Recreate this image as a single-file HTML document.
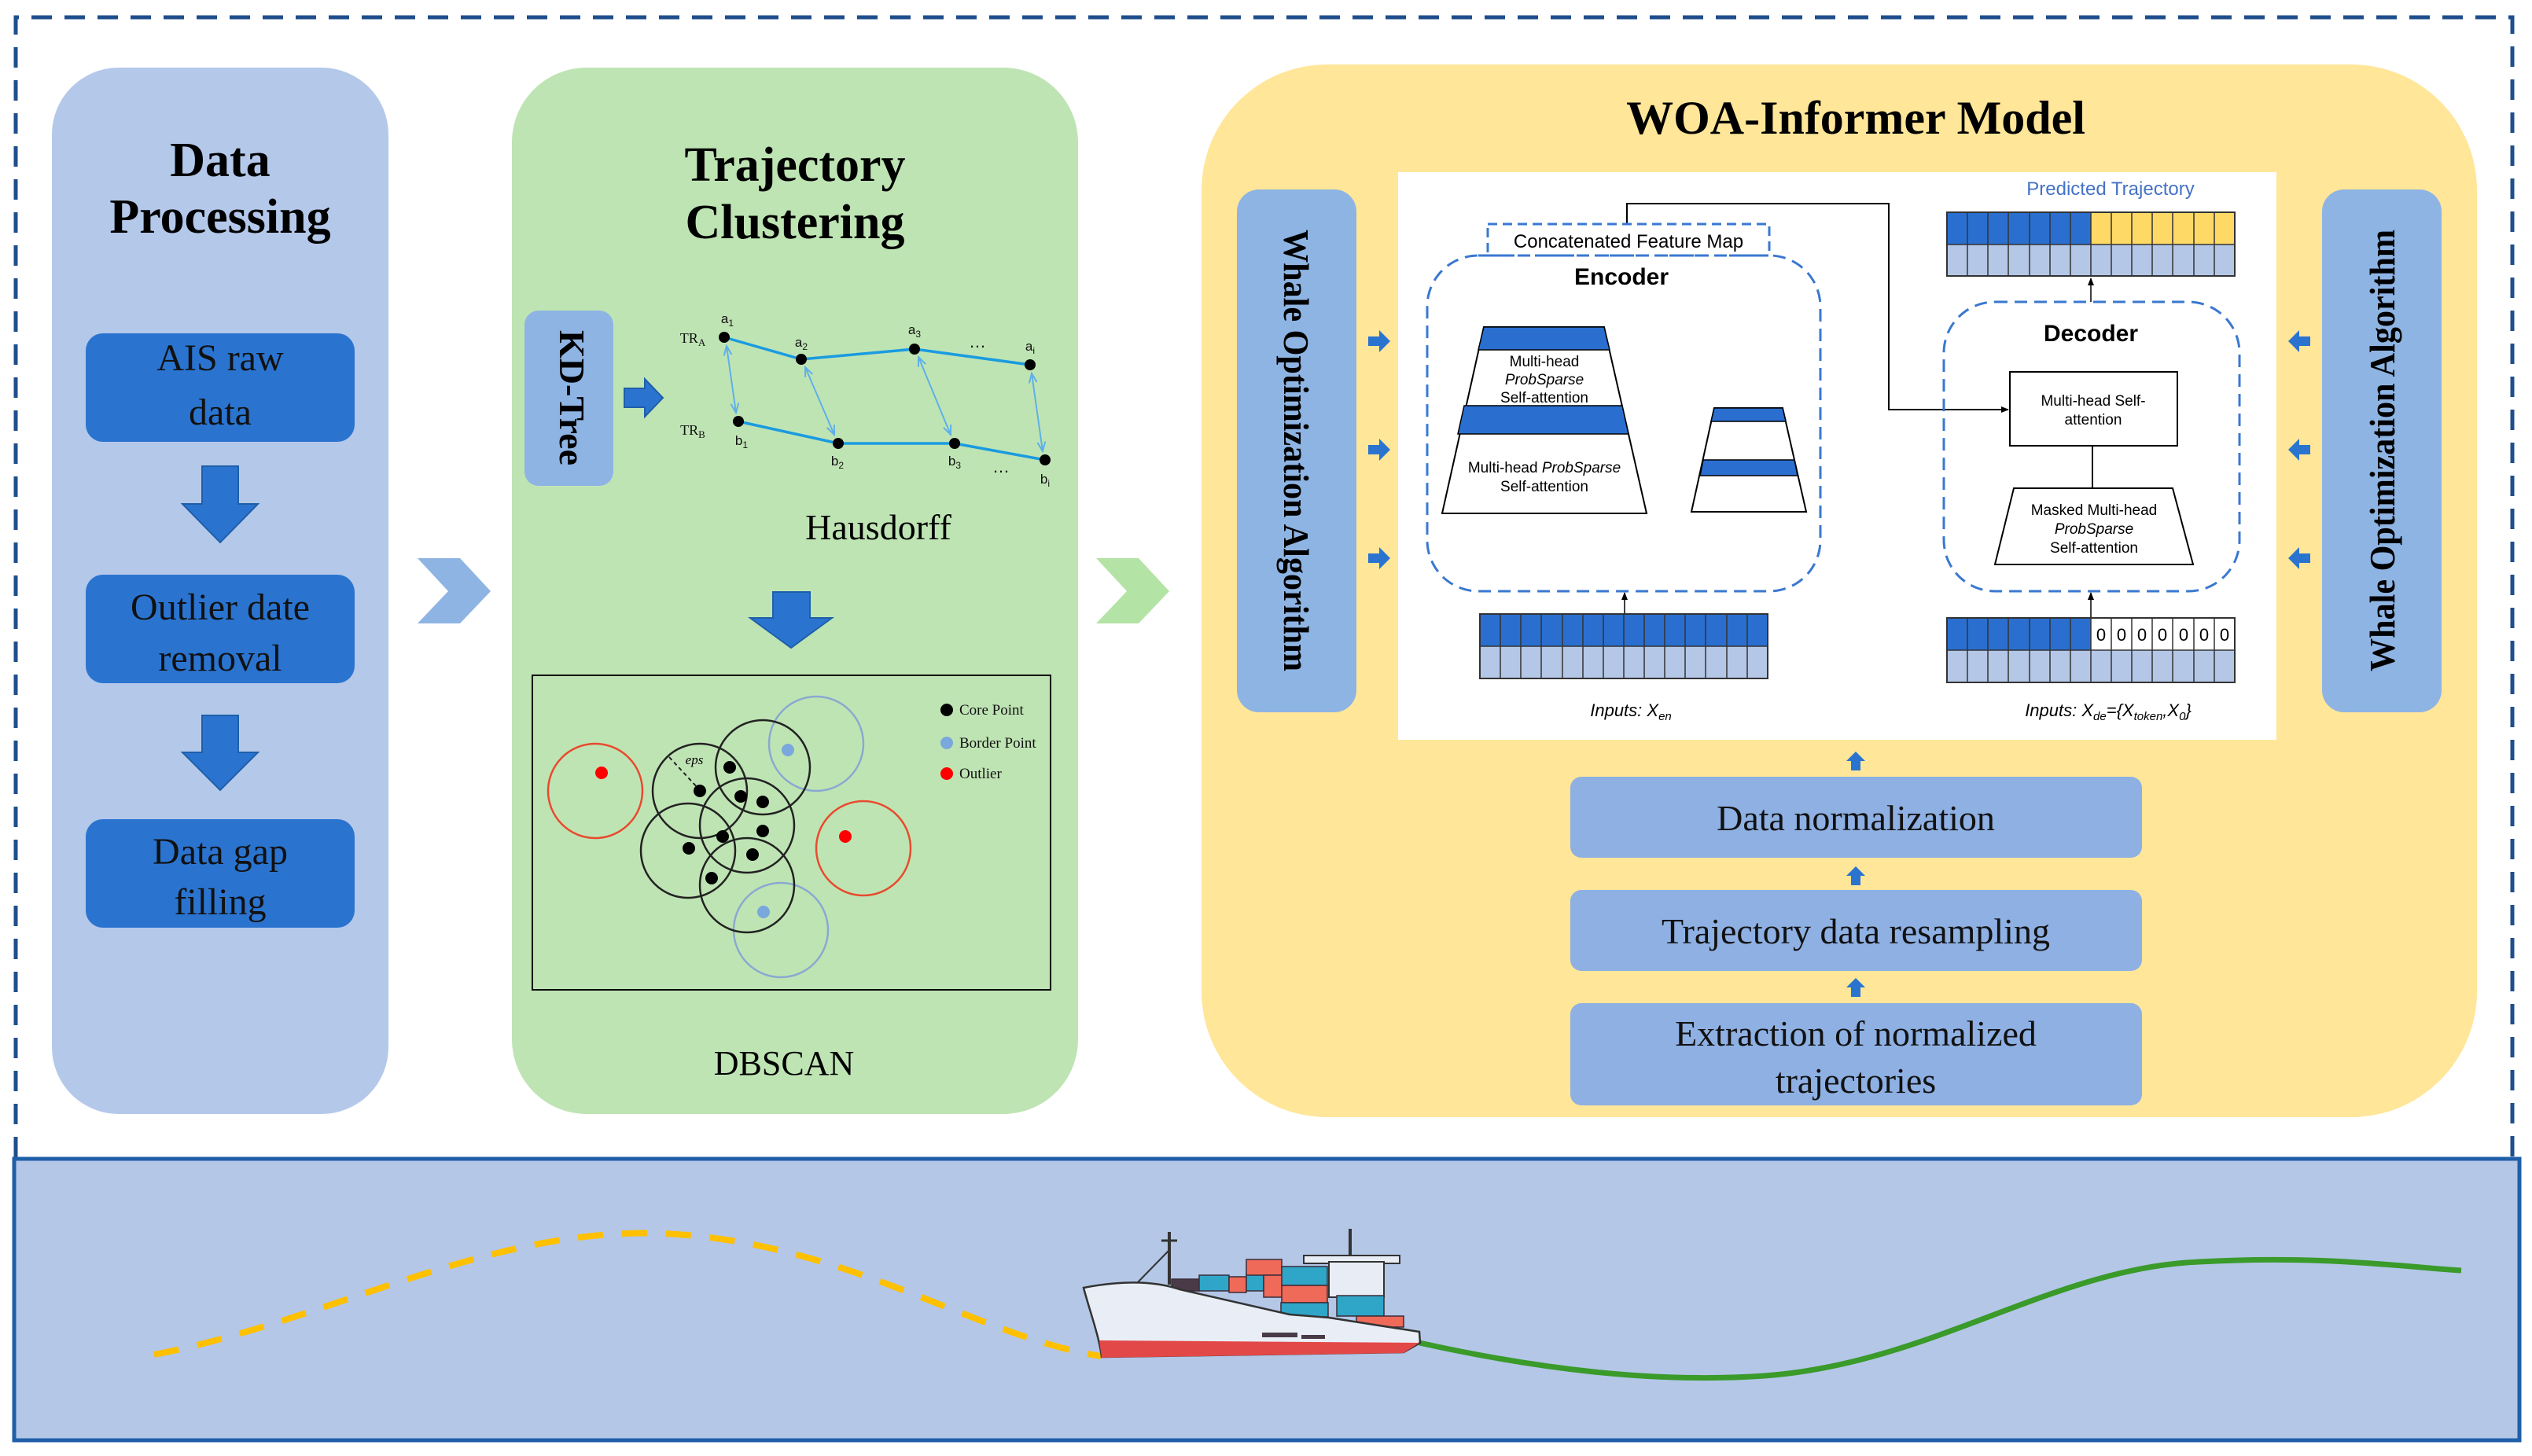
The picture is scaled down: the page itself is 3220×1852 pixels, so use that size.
<!DOCTYPE html>
<html><head><meta charset="utf-8"><style>
html,body{margin:0;padding:0;background:#fff;}
svg{display:block;}
.ser{font-family:"Liberation Serif",serif;}
.san{font-family:"Liberation Sans",sans-serif;}
</style></head><body>
<svg width="3220" height="1852" viewBox="0 0 3220 1852" xmlns="http://www.w3.org/2000/svg">
<defs>
<marker id="ah" markerWidth="10" markerHeight="10" refX="9" refY="5" orient="auto" markerUnits="userSpaceOnUse"><path d="M0,1 L10,5 L0,9 Z" fill="#000"/></marker>
<marker id="bh" markerWidth="14" markerHeight="14" refX="12" refY="7" orient="auto-start-reverse" markerUnits="userSpaceOnUse"><path d="M0,2 L12,7 L0,12" fill="none" stroke="#5fb0e8" stroke-width="2"/></marker>
</defs>
<rect width="3220" height="1852" fill="#fff"/>
<!-- outer dashed border -->
<path d="M20,1472 L20,22 L3195,22 L3195,1472" fill="none" stroke="#1f4e8c" stroke-width="5" stroke-dasharray="26 16"/>
<!-- bottom panel -->
<rect x="18" y="1474" width="3186" height="358" fill="#b4c7e7" stroke="#1f5fa8" stroke-width="5"/>

<!-- Data Processing panel -->
<rect x="66" y="86" width="428" height="1331" rx="85" fill="#b4c8ea"/>
<text x="280" y="224" text-anchor="middle" class="ser" font-size="62" font-weight="bold">Data</text>
<text x="280" y="296" text-anchor="middle" class="ser" font-size="62" font-weight="bold">Processing</text>
<g fill="#2a74d0">
<rect x="109" y="424" width="342" height="138" rx="22"/>
<rect x="109" y="731" width="342" height="138" rx="22"/>
<rect x="109" y="1042" width="342" height="138" rx="22"/>
</g>
<g class="ser" font-size="48" text-anchor="middle" fill="#111">
<text x="280" y="471">AIS raw</text><text x="280" y="540">data</text>
<text x="280" y="788">Outlier date</text><text x="280" y="853">removal</text>
<text x="280" y="1099">Data gap</text><text x="280" y="1163">filling</text>
</g>
<g fill="#2a74d0" stroke="#1f5fa8" stroke-width="2">
<path d="M257,593 H303 V641 H328 L280,690 L232,641 H257 Z"/>
<path d="M257,910 H303 V957 H328 L280,1005 L232,957 H257 Z"/>
</g>
<!-- chevrons -->
<path d="M531,710 L585,710 L624,752 L585,793 L531,793 L570,752 Z" fill="#8eb4e3"/>
<path d="M1394,710 L1448,710 L1487,752 L1448,793 L1394,793 L1433,752 Z" fill="#b4e3a6"/>

<!-- Trajectory Clustering panel -->
<rect x="651" y="86" width="720" height="1331" rx="95" fill="#bfe4b4"/>
<text x="1011" y="230" text-anchor="middle" class="ser" font-size="62" font-weight="bold">Trajectory</text>
<text x="1011" y="303" text-anchor="middle" class="ser" font-size="62" font-weight="bold">Clustering</text>
<rect x="667" y="395" width="113" height="223" rx="18" fill="#8eb4e3"/>
<text transform="translate(712,506) rotate(90)" text-anchor="middle" class="ser" font-size="46" font-weight="bold">KD-Tree</text>
<path d="M794,494 H820 V482 L843,506 L820,530 V518 H794 Z" fill="#2a74d0" stroke="#1f5fa8" stroke-width="2"/>
<!-- Hausdorff -->
<g stroke="#1a9be0" stroke-width="3.5" fill="none">
<polyline points="921,429 1019,457 1163,444 1310,464"/>
<polyline points="939,536 1066,564 1214,564 1329,585"/>
</g>
<g stroke="#5fb0e8" stroke-width="2" fill="none" marker-start="url(#bh)" marker-end="url(#bh)">
<line x1="924" y1="440" x2="936" y2="525"/>
<line x1="1024" y1="467" x2="1061" y2="553"/>
<line x1="1168" y1="454" x2="1209" y2="553"/>
<line x1="1312" y1="475" x2="1326" y2="574"/>
</g>
<g fill="#000">
<circle cx="921" cy="429" r="7"/><circle cx="1019" cy="457" r="7"/><circle cx="1163" cy="444" r="7"/><circle cx="1310" cy="464" r="7"/>
<circle cx="939" cy="536" r="7"/><circle cx="1066" cy="564" r="7"/><circle cx="1214" cy="564" r="7"/><circle cx="1329" cy="585" r="7"/>
</g>
<g class="san" font-size="17" fill="#111" text-anchor="middle">
<text x="925" y="411">a<tspan font-size="12" dy="4">1</tspan></text>
<text x="1019" y="441">a<tspan font-size="12" dy="4">2</tspan></text>
<text x="1163" y="425">a<tspan font-size="12" dy="4">3</tspan></text>
<text x="1310" y="446">a<tspan font-size="12" dy="4">i</tspan></text>
<text x="943" y="566">b<tspan font-size="12" dy="4">1</tspan></text>
<text x="1065" y="592">b<tspan font-size="12" dy="4">2</tspan></text>
<text x="1214" y="592">b<tspan font-size="12" dy="4">3</tspan></text>
<text x="1329" y="615">b<tspan font-size="12" dy="4">i</tspan></text>
<text x="1243" y="442" font-size="22">…</text>
<text x="1273" y="601" font-size="22">…</text>
</g>
<g class="ser" font-size="18" fill="#111" text-anchor="middle">
<text x="881" y="436">TR<tspan font-size="13" dy="4">A</tspan></text>
<text x="881" y="553">TR<tspan font-size="13" dy="4">B</tspan></text>
</g>
<text x="1117" y="686" text-anchor="middle" class="ser" font-size="46">Hausdorff</text>
<path d="M983,753 H1030 V786 H1058 L1006,824 L954,786 H983 Z" fill="#2a74d0" stroke="#1f5fa8" stroke-width="2"/>
<!-- DBSCAN -->
<rect x="677" y="859" width="659" height="400" fill="none" stroke="#000" stroke-width="2"/>
<g fill="none" stroke-width="2.5">
<circle cx="757" cy="1006" r="60" stroke="#e84a2e"/>
<circle cx="1098" cy="1079" r="60" stroke="#e84a2e"/>
<circle cx="1038" cy="946" r="60" stroke="#8aa9d0"/>
<circle cx="993" cy="1183" r="60" stroke="#8aa9d0"/>
<g stroke="#222">
<circle cx="890" cy="1006" r="60"/><circle cx="970" cy="976" r="60"/><circle cx="950" cy="1050" r="60"/><circle cx="875" cy="1082" r="60"/><circle cx="950" cy="1126" r="60"/>
</g>
</g>
<line x1="851" y1="963" x2="889" y2="1004" stroke="#222" stroke-width="2" stroke-dasharray="5 4"/>
<text x="883" y="972" class="ser" font-size="17" font-style="italic" text-anchor="middle">eps</text>
<g fill="#000">
<circle cx="890" cy="1006" r="8"/><circle cx="928" cy="976" r="8"/><circle cx="942" cy="1013" r="8"/><circle cx="970" cy="1020" r="8"/><circle cx="970" cy="1057" r="8"/><circle cx="919" cy="1064" r="8"/><circle cx="876" cy="1079" r="8"/><circle cx="957" cy="1087" r="8"/><circle cx="905" cy="1117" r="8"/>
</g>
<circle cx="765" cy="983" r="8" fill="#f00"/><circle cx="1075" cy="1064" r="8" fill="#f00"/>
<circle cx="1002" cy="954" r="8" fill="#7aa7dc"/><circle cx="971" cy="1160" r="8" fill="#7aa7dc"/>
<circle cx="1204" cy="903" r="8" fill="#000"/><circle cx="1204" cy="945" r="8" fill="#7aa7dc"/><circle cx="1204" cy="984" r="8" fill="#f00"/>
<g class="ser" font-size="19" fill="#111">
<text x="1220" y="909">Core Point</text><text x="1220" y="951">Border Point</text><text x="1220" y="990">Outlier</text>
</g>
<text x="997" y="1367" text-anchor="middle" class="ser" font-size="44">DBSCAN</text>

<!-- WOA-Informer panel -->
<rect x="1528" y="82" width="1622" height="1339" rx="160" fill="#ffe699"/>
<text x="2360" y="170" text-anchor="middle" class="ser" font-size="60" font-weight="bold">WOA-Informer Model</text>
<rect x="1573" y="241" width="152" height="665" rx="28" fill="#8eb4e3"/>
<rect x="2953" y="241" width="152" height="665" rx="28" fill="#8eb4e3"/>
<text transform="translate(1633,573) rotate(90)" text-anchor="middle" class="ser" font-size="46" font-weight="bold" textLength="562" lengthAdjust="spacingAndGlyphs">Whale Optimization Algorithm</text>
<text transform="translate(3045,573) rotate(-90)" text-anchor="middle" class="ser" font-size="46" font-weight="bold" textLength="562" lengthAdjust="spacingAndGlyphs">Whale Optimization Algorithm</text>
<g fill="#2a74d0">
<path d="M1740,428 H1754 V420 L1768,434 L1754,448 V440 H1740 Z"/>
<path d="M1740,566 H1754 V558 L1768,572 L1754,586 V578 H1740 Z"/>
<path d="M1740,704 H1754 V696 L1768,710 L1754,724 V716 H1740 Z"/>
<path d="M2938,428 H2924 V420 L2910,434 L2924,448 V440 H2938 Z"/>
<path d="M2938,566 H2924 V558 L2910,572 L2924,586 V578 H2938 Z"/>
<path d="M2938,704 H2924 V696 L2910,710 L2924,724 V716 H2938 Z"/>
</g>
<!-- white informer panel -->
<rect x="1778" y="219" width="1117" height="722" fill="#fff"/>
<!-- connector -->
<polyline points="2069,285 2069,259 2402,259 2402,521 2554,521" fill="none" stroke="#000" stroke-width="2" marker-end="url(#ah)"/>
<rect x="1892" y="285" width="358" height="40" fill="#fff" stroke="#3a78d0" stroke-width="3" stroke-dasharray="12 7"/>
<text x="2071" y="315" text-anchor="middle" class="san" font-size="24">Concatenated Feature Map</text>
<rect x="1815" y="325" width="500" height="427" rx="65" fill="none" stroke="#3a78d0" stroke-width="3" stroke-dasharray="16 9"/>
<text x="2062" y="362" text-anchor="middle" class="san" font-size="30" font-weight="bold">Encoder</text>
<!-- big trapezoid -->
<path d="M1887,416 L2040,416 L2094,653 L1834,653 Z" fill="#fff" stroke="#000" stroke-width="2"/>
<path d="M1887,416 L2040,416 L2047,445 L1880,445 Z" fill="#2a6fd0" stroke="#000" stroke-width="1.5"/>
<path d="M1862,516 L2063,516 L2071,552 L1854,552 Z" fill="#2a6fd0" stroke="#000" stroke-width="1.5"/>
<g class="san" font-size="19" text-anchor="middle">
<text x="1964" y="466">Multi-head</text>
<text x="1964" y="489" font-style="italic">ProbSparse</text>
<text x="1964" y="512">Self-attention</text>
<text x="1964" y="601">Multi-head <tspan font-style="italic">ProbSparse</tspan></text>
<text x="1964" y="625">Self-attention</text>
</g>
<path d="M2180,519 L2267,519 L2297,651 L2151,651 Z" fill="#fff" stroke="#000" stroke-width="2"/>
<path d="M2180,519 L2267,519 L2271,536 L2176,536 Z" fill="#2a6fd0" stroke="#000" stroke-width="1.5"/>
<path d="M2166,585 L2282,585 L2286,605 L2162,605 Z" fill="#2a6fd0" stroke="#000" stroke-width="1.5"/>
<line x1="2066" y1="781" x2="2066" y2="754" stroke="#000" stroke-width="1.5" marker-end="url(#ah)"/>
<!-- encoder input grid -->
<rect x="1882" y="781" width="366" height="41" fill="#2a6fd0"/>
<rect x="1882" y="822" width="366" height="41" fill="#b4c7e7"/>
<path d="M1908,781V863M1934,781V863M1960,781V863M1987,781V863M2013,781V863M2039,781V863M2065,781V863M2091,781V863M2117,781V863M2143,781V863M2169,781V863M2196,781V863M2222,781V863M1882,822H2248" stroke="#333" stroke-width="1.5"/>
<rect x="1882" y="781" width="366" height="82" fill="none" stroke="#333" stroke-width="2"/>
<text x="2074" y="911" text-anchor="middle" class="san" font-size="22" font-style="italic">Inputs: X<tspan font-size="15" dy="5">en</tspan></text>
<!-- decoder -->
<text x="2684" y="248" text-anchor="middle" class="san" font-size="24" fill="#4472c4">Predicted Trajectory</text>
<rect x="2476" y="270" width="183" height="41" fill="#2a6fd0"/>
<rect x="2659" y="270" width="183" height="41" fill="#ffd966"/>
<rect x="2476" y="311" width="366" height="40" fill="#b4c7e7"/>
<path d="M2502,270V351M2528,270V351M2554,270V351M2581,270V351M2607,270V351M2633,270V351M2659,270V351M2685,270V351M2711,270V351M2737,270V351M2763,270V351M2790,270V351M2816,270V351M2476,311H2842" stroke="#333" stroke-width="1.5"/>
<rect x="2476" y="270" width="366" height="81" fill="none" stroke="#333" stroke-width="2"/>
<line x1="2659" y1="384" x2="2659" y2="354" stroke="#000" stroke-width="1.5" marker-end="url(#ah)"/>
<rect x="2472" y="384" width="376" height="368" rx="65" fill="none" stroke="#3a78d0" stroke-width="3" stroke-dasharray="16 9"/>
<text x="2659" y="434" text-anchor="middle" class="san" font-size="30" font-weight="bold">Decoder</text>
<rect x="2556" y="473" width="213" height="94" fill="#fff" stroke="#000" stroke-width="2"/>
<text x="2662" y="516" text-anchor="middle" class="san" font-size="19">Multi-head Self-</text>
<text x="2662" y="540" text-anchor="middle" class="san" font-size="19">attention</text>
<line x1="2661" y1="567" x2="2661" y2="621" stroke="#000" stroke-width="2"/>
<path d="M2561,621 L2763,621 L2789,718 L2537,718 Z" fill="#fff" stroke="#000" stroke-width="2"/>
<g class="san" font-size="19" text-anchor="middle">
<text x="2663" y="655">Masked Multi-head</text>
<text x="2663" y="679" font-style="italic">ProbSparse</text>
<text x="2663" y="703">Self-attention</text>
</g>
<line x1="2659" y1="786" x2="2659" y2="754" stroke="#000" stroke-width="1.5" marker-end="url(#ah)"/>
<rect x="2476" y="786" width="183" height="41" fill="#2a6fd0"/>
<rect x="2659" y="786" width="183" height="41" fill="#fff"/>
<rect x="2476" y="827" width="366" height="41" fill="#b4c7e7"/>
<path d="M2502,786V868M2528,786V868M2554,786V868M2581,786V868M2607,786V868M2633,786V868M2659,786V868M2685,786V868M2711,786V868M2737,786V868M2763,786V868M2790,786V868M2816,786V868M2476,827H2842" stroke="#333" stroke-width="1.5"/>
<rect x="2476" y="786" width="366" height="82" fill="none" stroke="#333" stroke-width="2"/>
<g class="san" font-size="22" text-anchor="middle">
<text x="2672" y="815">0</text><text x="2698" y="815">0</text><text x="2724" y="815">0</text><text x="2750" y="815">0</text><text x="2777" y="815">0</text><text x="2803" y="815">0</text><text x="2829" y="815">0</text>
</g>
<text x="2681" y="911" text-anchor="middle" class="san" font-size="22" font-style="italic">Inputs: X<tspan font-size="15" dy="5">de</tspan><tspan dy="-5">={X</tspan><tspan font-size="15" dy="5">token</tspan><tspan dy="-5">,X</tspan><tspan font-size="15" dy="5">0</tspan><tspan dy="-5">}</tspan></text>
<!-- bottom boxes -->
<g fill="#8eb0e3">
<rect x="1997" y="988" width="727" height="103" rx="14"/>
<rect x="1997" y="1132" width="727" height="103" rx="14"/>
<rect x="1997" y="1276" width="727" height="130" rx="14"/>
</g>
<g class="ser" font-size="46" text-anchor="middle" fill="#111">
<text x="2360" y="1056">Data normalization</text>
<text x="2360" y="1200">Trajectory data resampling</text>
<text x="2360" y="1330">Extraction of normalized</text>
<text x="2360" y="1390">trajectories</text>
</g>
<g fill="#2a74d0">
<path d="M2360,956 L2372,968 H2366 V980 H2354 V968 H2348 Z"/>
<path d="M2360,1102 L2372,1114 H2366 V1126 H2354 V1114 H2348 Z"/>
<path d="M2360,1244 L2372,1256 H2366 V1268 H2354 V1256 H2348 Z"/>
</g>

<!-- bottom waves -->
<path d="M196,1723 C420,1680 620,1560 844,1569 C1080,1580 1240,1700 1400,1725" fill="none" stroke="#ffc000" stroke-width="8" stroke-dasharray="32 24"/>
<path d="M1805,1708 C1950,1740 2100,1760 2244,1750 C2450,1735 2600,1620 2780,1606 C2950,1595 3060,1612 3130,1616" fill="none" stroke="#3a9a2a" stroke-width="7"/>
<!-- ship -->
<g>
<line x1="1487" y1="1567" x2="1487" y2="1634" stroke="#333" stroke-width="4"/>
<line x1="1477" y1="1578" x2="1497" y2="1578" stroke="#333" stroke-width="3"/>
<line x1="1487" y1="1590" x2="1446" y2="1632" stroke="#333" stroke-width="2"/>
<line x1="1717" y1="1563" x2="1717" y2="1598" stroke="#333" stroke-width="4"/>
<rect x="1658" y="1597" width="122" height="10" fill="#e8edf5" stroke="#333" stroke-width="2"/>
<rect x="1690" y="1605" width="70" height="45" fill="#e8edf5" stroke="#333" stroke-width="2"/>
<g stroke="#3a2d3a" stroke-width="1.5">
<rect x="1490" y="1627" width="35" height="15" fill="#4a3a48"/>
<rect x="1525" y="1622" width="38" height="20" fill="#2fa6c8"/>
<rect x="1563" y="1624" width="22" height="20" fill="#ef6a58"/>
<rect x="1585" y="1620" width="22" height="22" fill="#2fa6c8"/>
<rect x="1585" y="1602" width="45" height="20" fill="#ef6a58"/>
<rect x="1607" y="1622" width="30" height="28" fill="#ef6a58"/>
<rect x="1630" y="1611" width="58" height="24" fill="#2fa6c8"/>
<rect x="1630" y="1635" width="58" height="22" fill="#ef6a58"/>
<rect x="1629" y="1657" width="60" height="18" fill="#2fa6c8"/>
<rect x="1700" y="1648" width="60" height="26" fill="#2fa6c8"/>
<rect x="1725" y="1674" width="60" height="14" fill="#ef6a58"/>
</g>
<path d="M1378,1638 C1430,1628 1470,1630 1500,1640 L1640,1672 L1690,1676 L1805,1694 L1806,1708 L1785,1720 L1401,1726 C1398,1700 1385,1665 1378,1638 Z" fill="#e9eef6" stroke="#333" stroke-width="2.5"/>
<path d="M1398,1705 L1805,1708 L1785,1721 L1401,1727 Z" fill="#e34848"/>
<rect x1="0" x="1605" y="1695" width="45" height="6" fill="#4a3a48"/>
<rect x="1655" y="1698" width="30" height="5" fill="#4a3a48"/>
</g>
</svg>
</body></html>
